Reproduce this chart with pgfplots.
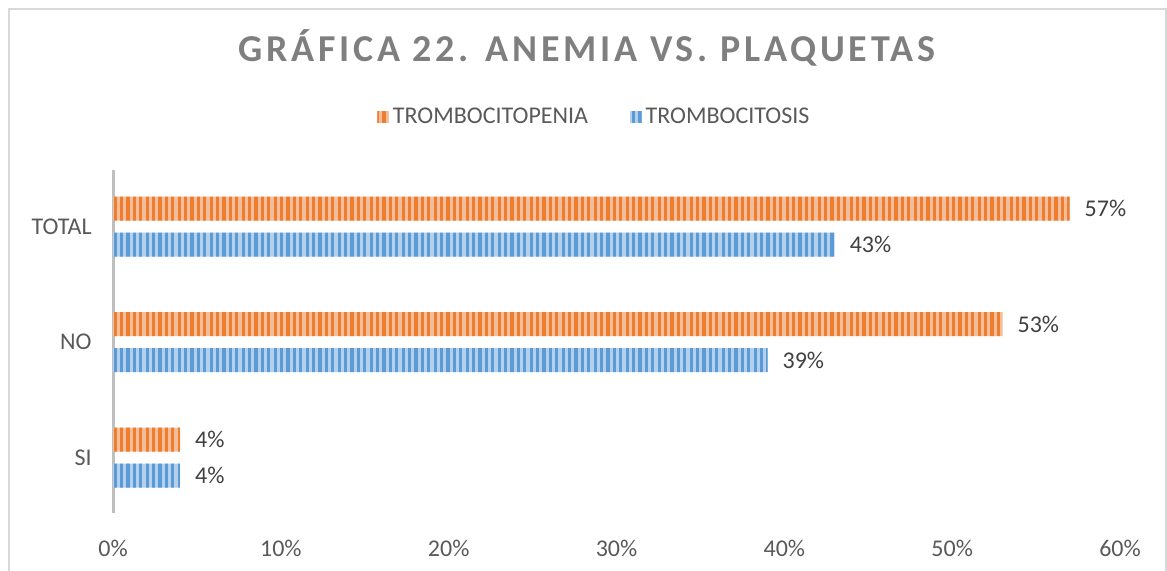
\documentclass[border=0pt]{standalone}
\usepackage{pgfplots}
\pgfplotsset{compat=1.18}
\usepackage{fontspec}
\setmainfont{Carlito}
\usetikzlibrary{patterns.meta}
\definecolor{orD}{HTML}{ED7D31}
\definecolor{orL}{HTML}{F6BE98}
\definecolor{blD}{HTML}{5B9BD5}
\definecolor{blL}{HTML}{B4D0EC}
\definecolor{txt}{HTML}{595959}
\definecolor{lab}{HTML}{404040}
\definecolor{ttl}{HTML}{7F7F7F}
\definecolor{frm}{HTML}{D9D9D9}
\definecolor{axl}{HTML}{BFBFBF}
\begin{document}
\begin{tikzpicture}
\useasboundingbox (0,0) rectangle (583.5pt,285pt);
\draw[frm, line width=0.75pt] (4.5pt,-2pt) -- (4.5pt,280.5pt) -- (583pt,280.5pt) -- (583pt,-2pt);
\node[anchor=base, text=ttl, font={\fontsize{19}{23}\selectfont\bfseries\addfontfeature{LetterSpace=10}}] at (293.5pt,254.5pt) {GRÁFICA 22. ANEMIA VS. PLAQUETAS};
\begin{axis}[
  at={(56.5pt,28.5pt)}, anchor=south west,
  width=503.5pt, height=171.5pt, scale only axis,
  xbar, bar width=12pt,
  xmin=0, xmax=60, ymin=-0.48, ymax=2.49,
  xtick={0,10,20,30,40,50,60},
  xticklabel={\pgfmathprintnumber{\tick}\%},
  ytick={0,1,2}, yticklabels={SI,NO,TOTAL},
  /pgf/number format/assume math mode=true,
  axis lines*=left, axis line style={-},
  x axis line style={draw=none},
  y axis line style={draw=axl, line width=1.5pt},
  major tick length=0pt,
  tick label style={font=\fontsize{12}{14}\selectfont, text=txt},
  xticklabel style={anchor=center, yshift=-17.5pt},
  yticklabel style={anchor=east, inner sep=0pt, xshift=-10.5pt},
  point meta=x,
  nodes near coords={\pgfmathprintnumber{\pgfplotspointmeta}\%},
  nodes near coords style={anchor=west, xshift=4pt, font=\fontsize{12}{14}\selectfont, text=lab},
  legend style={at={(0.479,1.1545)}, anchor=center, draw=none, fill=none,
    legend columns=2, font=\fontsize{12}{14}\selectfont, text=txt,
    /tikz/every even column/.append style={column sep=19pt},
    inner sep=0pt},
  legend image code/.code={\path[#1,draw=none] (0pt,-2.9pt) rectangle (5.8pt,2.9pt);},
  clip=false,
]
\addplot[bar shift=9pt, draw=none, fill=orL,
  postaction={pattern={Lines[angle=90,distance=3.2pt,line width=1.6pt]}, pattern color=orD}]
  coordinates {(4,0) (53,1) (57,2)};
\addlegendentry{TROMBOCITOPENIA}
\addplot[bar shift=-9pt, draw=none, fill=blL,
  postaction={pattern={Lines[angle=90,distance=3.2pt,line width=1.6pt]}, pattern color=blD}]
  coordinates {(4,0) (39,1) (43,2)};
\addlegendentry{TROMBOCITOSIS}
\end{axis}
\end{tikzpicture}
\end{document}
